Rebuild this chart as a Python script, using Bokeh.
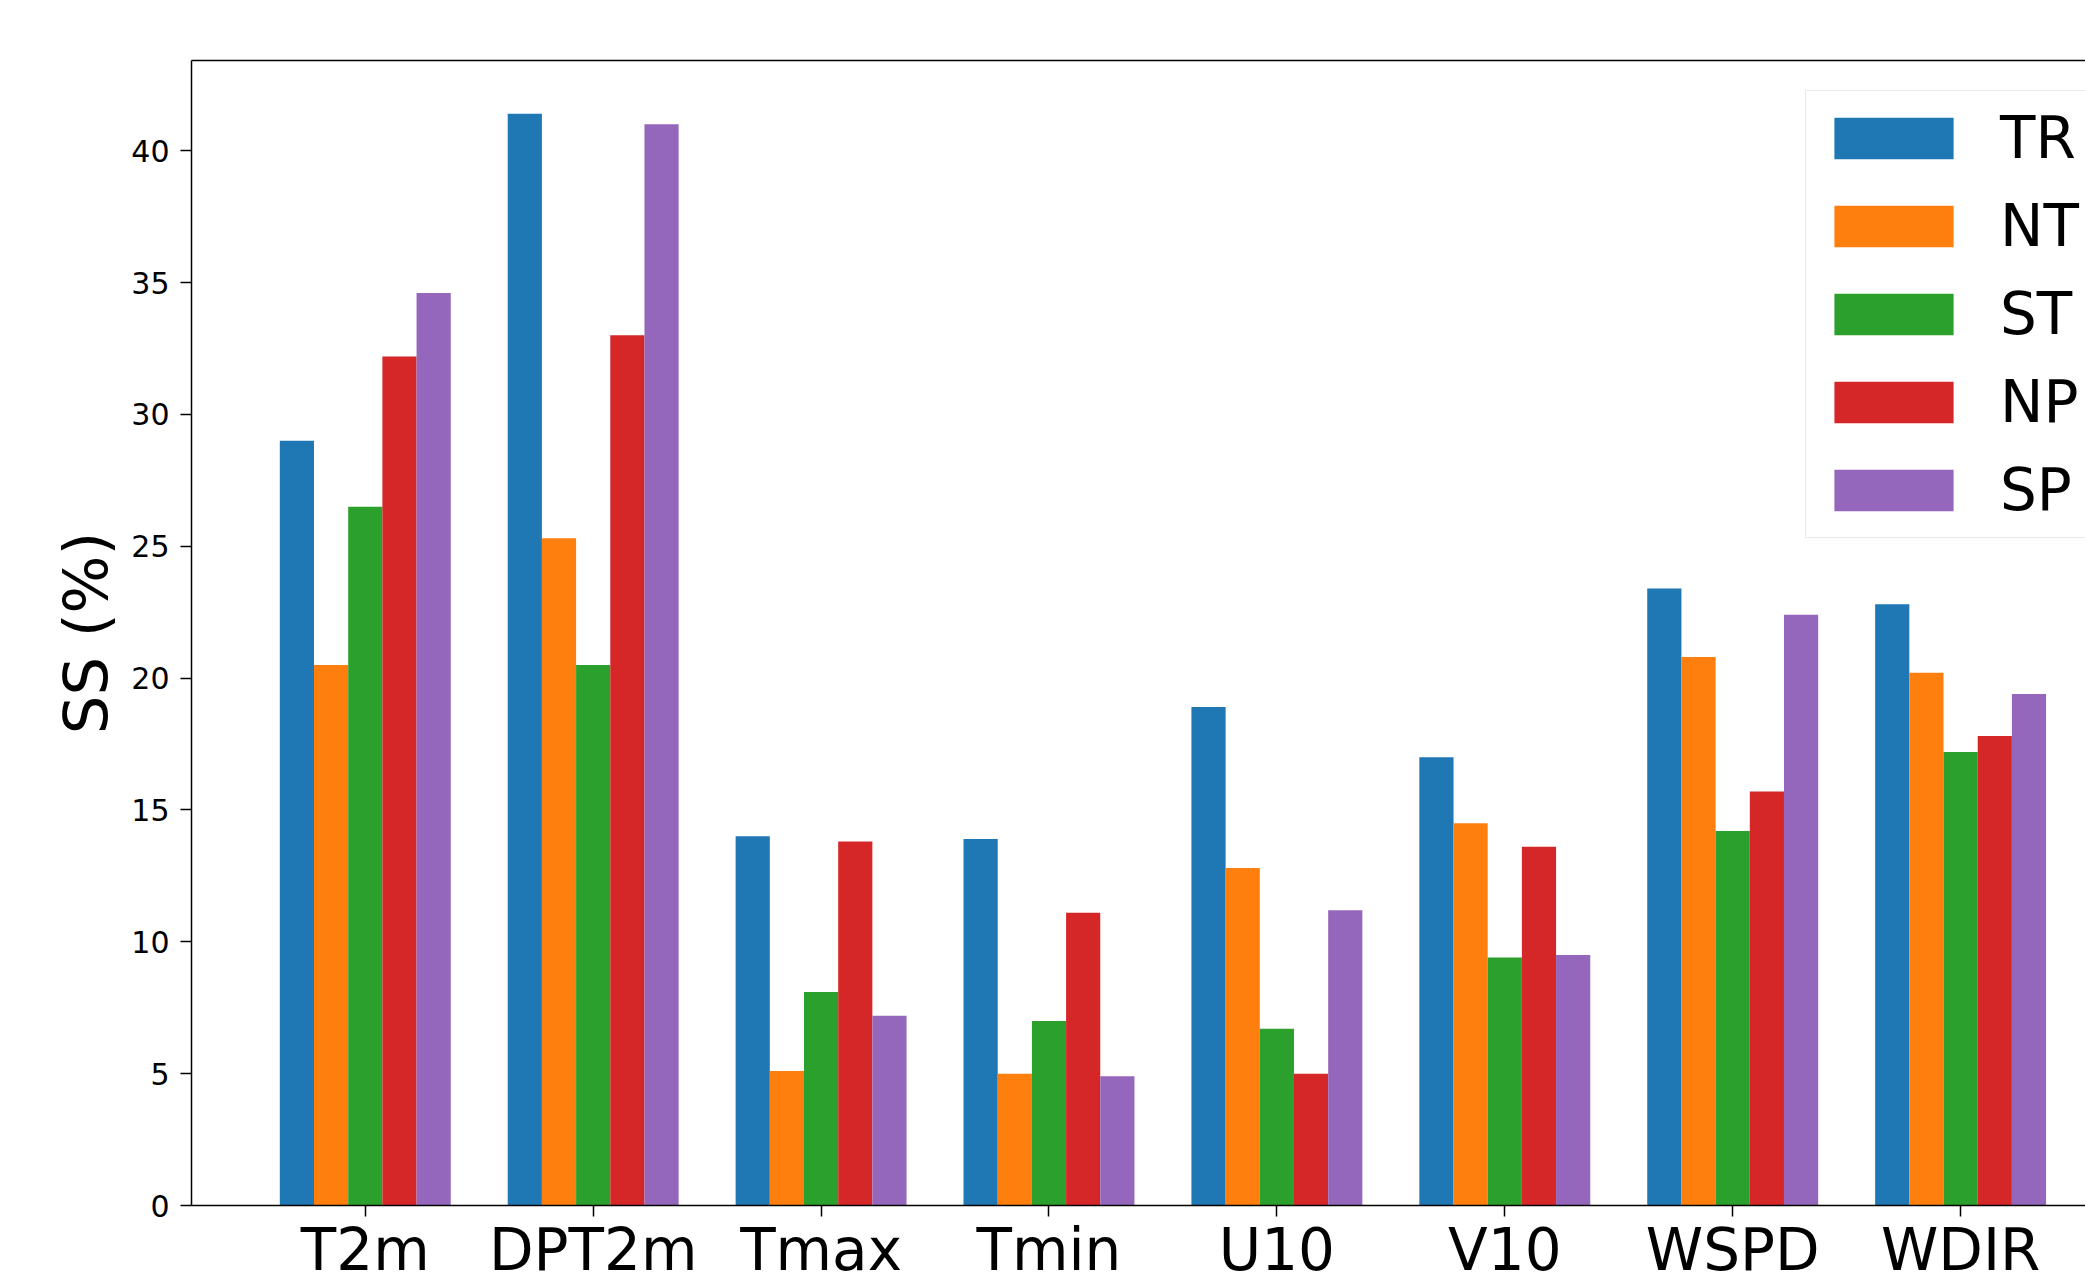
import numpy as np
from bokeh.plotting import figure
from bokeh.models import Range1d, FixedTicker, LinearAxis, Legend, LegendItem, ColumnDataSource
from bokeh.embed import file_html
from bokeh.resources import INLINE

# ---- data ----
categories = ["T2m", "DPT2m", "Tmax", "Tmin", "U10", "V10", "WSPD", "WDIR"]
series_names = ["TR", "NT", "ST", "NP", "SP"]
TR = [29.0, 41.4, 14.0, 13.9, 18.9, 17.0, 23.4, 22.8]
NT = [20.5, 25.3, 5.1, 5.0, 12.8, 14.5, 20.8, 20.2]
ST = [26.5, 20.5, 8.1, 7.0, 6.7, 9.4, 14.2, 17.2]
NP = [32.2, 33.0, 13.8, 11.1, 5.0, 13.6, 15.7, 17.8]
SP = [34.6, 41.0, 7.2, 4.9, 11.2, 9.5, 22.4, 19.4]
y_ticks = [0, 5, 10, 15, 20, 25, 30, 35, 40]
y_label = "SS (%)"

series_values = [TR, NT, ST, NP, SP]
colors = ["#1f77b4", "#ff7f0e", "#2ca02c", "#d62728", "#9467bd"]
bar_w = 0.15
FONT = "DejaVu Sans"

p = figure(width=2085, height=1286, output_backend="svg", toolbar_location=None,
           x_range=Range1d(-0.7625, 7.548), y_range=Range1d(0, 43.42),
           min_border_left=191, min_border_right=0, min_border_top=60, min_border_bottom=81)
p.outline_line_color = None
p.grid.visible = False
p.background_fill_color = "white"
p.border_fill_color = "white"

idx = np.arange(len(categories))
renderers = []
for j, (name, vals) in enumerate(zip(series_names, series_values)):
    src = ColumnDataSource(dict(x=idx + (j - 2) * bar_w, top=vals))
    r = p.vbar(x="x", top="top", bottom=0, width=bar_w, source=src,
               fill_color=colors[j], line_color=None)
    renderers.append(r)

# axes
for ax in (p.xaxis[0], p.yaxis[0]):
    ax.axis_line_color = "black"
    ax.axis_line_width = 1.5
    ax.major_tick_line_color = "black"
    ax.major_tick_line_width = 1.5
    ax.major_tick_out = 11
    ax.major_tick_in = 0
    ax.minor_tick_line_color = None
    ax.major_label_text_font = FONT
    ax.major_label_text_color = "black"

p.xaxis.ticker = FixedTicker(ticks=list(range(len(categories))))
p.xaxis.major_label_overrides = {i: c for i, c in enumerate(categories)}
p.xaxis.major_label_text_font_size = "58px"
p.xaxis.major_label_standoff = -1

p.yaxis.ticker = FixedTicker(ticks=y_ticks)
p.yaxis.major_label_text_font_size = "30px"
p.yaxis.major_label_standoff = 11
p.yaxis.axis_label = y_label
p.yaxis.axis_label_text_font = FONT
p.yaxis.axis_label_text_font_size = "61px"
p.yaxis.axis_label_text_font_style = "normal"
p.yaxis.axis_label_text_color = "black"
p.yaxis.axis_label_standoff = 7

top_axis = LinearAxis(ticker=FixedTicker(ticks=[]), major_label_text_font_size="0px",
                      major_tick_line_color=None, minor_tick_line_color=None,
                      axis_line_color="black", axis_line_width=1.5)
p.add_layout(top_axis, "above")

legend = Legend(items=[LegendItem(label=n, renderers=[r]) for n, r in zip(series_names, renderers)],
                location=(1614, 667),
                glyph_width=149, glyph_height=52, label_standoff=32, spacing=20,
                padding=13, label_text_font=FONT, label_text_font_size="58px",
                label_text_color="black", border_line_color="#d4d4d4", border_line_width=1.5,
                background_fill_color="white", background_fill_alpha=0.8)
p.add_layout(legend)

open("out.html", "w").write(file_html(p, INLINE))
